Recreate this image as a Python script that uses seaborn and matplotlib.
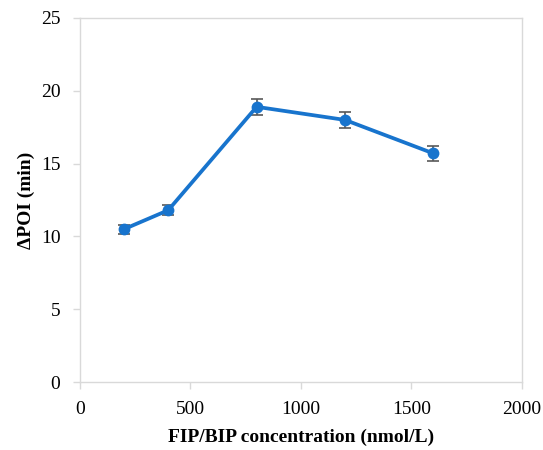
import matplotlib
matplotlib.use("Agg")
import matplotlib.pyplot as plt
import seaborn as sns
import pandas as pd

concentration = [200, 400, 800, 1200, 1600]
delta_poi = [10.5, 11.8, 18.9, 18.0, 15.7]
error = [0.3, 0.35, 0.55, 0.55, 0.5]
x_ticks = [0, 500, 1000, 1500, 2000]
y_ticks = [0, 5, 10, 15, 20, 25]

df = pd.DataFrame({"conc": concentration, "poi": delta_poi, "err": error})

sns.set_theme(style="white")
plt.rcParams["font.family"] = ["Liberation Serif", "DejaVu Serif"]

fig = plt.figure(figsize=(5.43, 4.5), dpi=100)
ax = fig.add_axes([0.147, 0.151, 0.814, 0.809])

line_color = "#1874CD"
ax.errorbar(df["conc"], df["poi"], yerr=df["err"], fmt="none",
            ecolor="#595959", elinewidth=1.2, capsize=4, capthick=1.2, zorder=3)
sns.lineplot(data=df, x="conc", y="poi", ax=ax, color=line_color,
             linewidth=2.7, marker="o", markersize=8.5, markeredgewidth=0,
             zorder=4)

ax.set_xlim(0, 2000)
ax.set_ylim(0, 25)
ax.set_xticks(x_ticks)
ax.set_yticks(y_ticks)
ax.tick_params(axis="both", labelsize=14, colors="#d9d9d9", labelcolor="black",
               length=5, width=1, direction="out", bottom=True, left=True)
ax.tick_params(axis="x", pad=9)
ax.tick_params(axis="y", pad=9)

for s in ax.spines.values():
    s.set_color("#d9d9d9")
    s.set_linewidth(1.0)

ax.set_xlabel("FIP/BIP concentration (nmol/L)", fontsize=14, fontweight="bold",
              color="black", labelpad=7)
ax.set_ylabel("ΔPOI (min)", fontsize=14, fontweight="bold", color="black",
              labelpad=4)

fig.savefig("out.png", dpi=100)
